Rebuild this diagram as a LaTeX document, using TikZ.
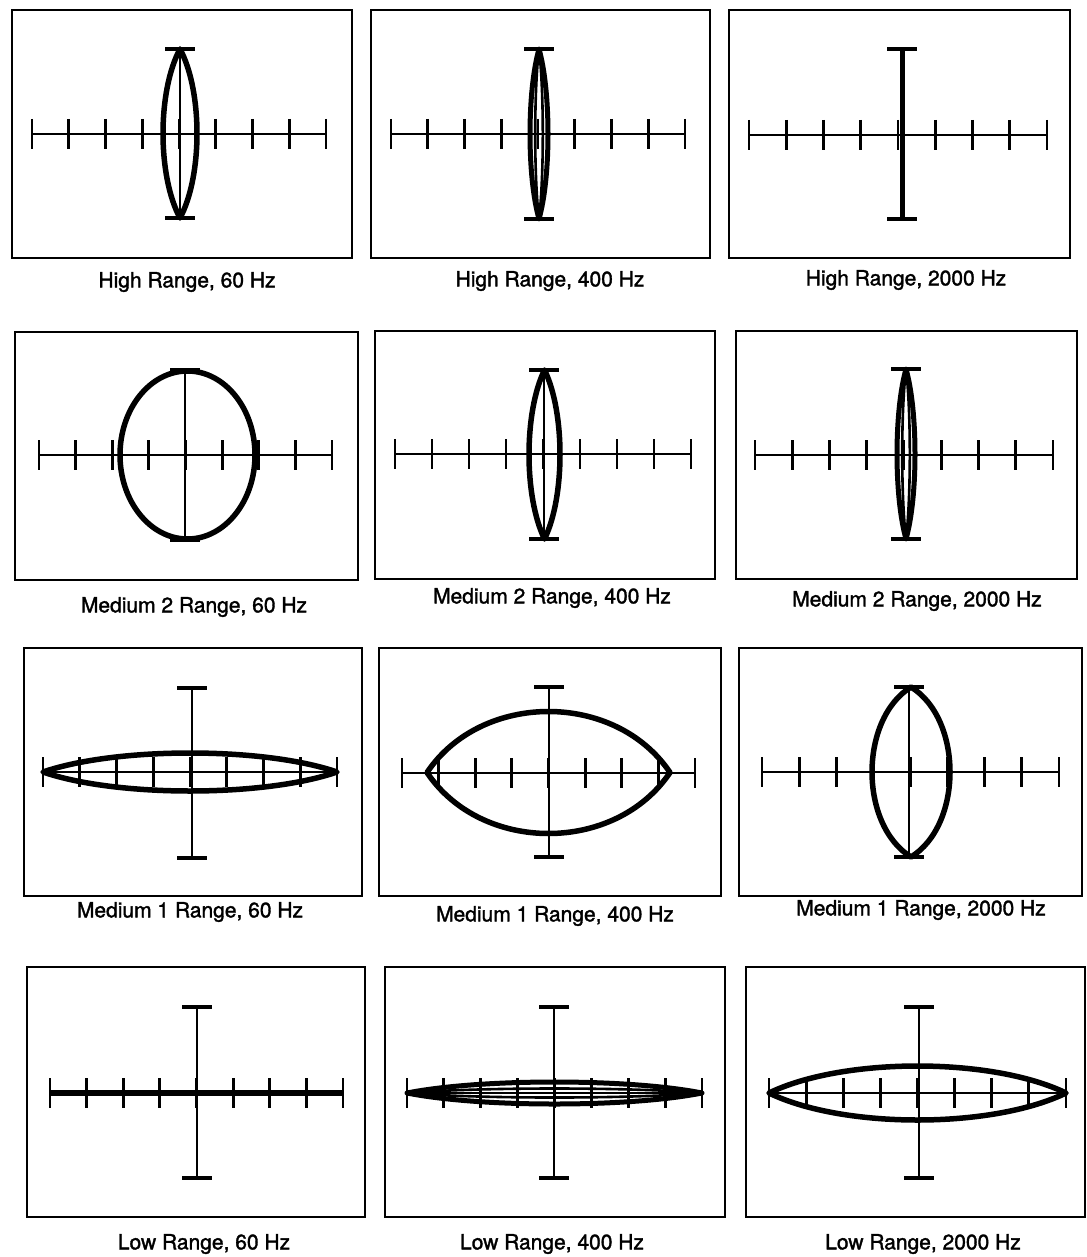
\documentclass[tikz,border=0pt]{standalone}
\usepackage{fontspec}
\setmainfont{TeX Gyre Heros}
\newfontfamily\lblfont{TeX Gyre Heros}[FakeBold=1.6]
\tikzset{
  frame/.style={draw=black, line width=2.8pt},
  axisline/.style={line width=2.6pt},
  tickline/.style={line width=2.8pt},
  capline/.style={line width=3.2pt},
  thinv/.style={line width=1.8pt},
  trace/.style={line width=5.5pt, line join=round},
  outertrace/.style={line width=5pt, line join=round},
  innertrace/.style={line width=2.6pt, line join=round},
  hidden/.style={draw=none},
  lbl/.style={font=\lblfont\fontsize{21}{25}\selectfont, inner sep=0pt, anchor=center}
}
% #1 xL, #2 xR, #3 yA, #4 xc, #5 yT, #6 yB, #7 vertical style, #8 horizontal style
\newcommand{\grat}[8]{%
  \draw[#8] (#1,#3) -- (#2,#3);
  \foreach \k in {0,...,8}{\draw[tickline] ({#1+\k*(#2-#1)/8},{#3-15}) -- ({#1+\k*(#2-#1)/8},{#3+15});}
  \draw[#7] (#4,#5) -- (#4,#6);
  \draw[capline] ({#4-15},#5) -- ({#4+15},#5);
  \draw[capline] ({#4-15},#6) -- ({#4+15},#6);
}
% vertical lens: [#1 control fraction], #2 xc, #3 yc, #4 half height, #5 half width, #6 style
\newcommand{\vlens}[6][0.5]{%
  \draw[#6] (#2,{#3-#4}) .. controls ({#2+4*#5/3},{#3-#1*#4}) and ({#2+4*#5/3},{#3+#1*#4}) .. (#2,{#3+#4})
    .. controls ({#2-4*#5/3},{#3+#1*#4}) and ({#2-4*#5/3},{#3-#1*#4}) .. cycle;}
% horizontal lens: [#1 control fraction], #2 xc, #3 yc, #4 half length, #5 half height, #6 style
\newcommand{\hlens}[6][0.5]{%
  \draw[#6] ({#2-#4},#3) .. controls ({#2-#1*#4},{#3-4*#5/3}) and ({#2+#1*#4},{#3-4*#5/3}) .. ({#2+#4},#3)
    .. controls ({#2+#1*#4},{#3+4*#5/3}) and ({#2-#1*#4},{#3+4*#5/3}) .. cycle;}
\begin{document}
\begin{tikzpicture}[x=1pt,y=-1pt]
\useasboundingbox (0,0) rectangle (1086,1257);
\fill[white] (0,0) rectangle (1086,1257);

% ---------- Row 1: High Range ----------
\draw[frame] (12,10) rectangle (352,258);
\grat{32}{326}{134}{180}{49}{218}{thinv}{axisline}
\vlens{180}{133.5}{84.5}{17}{trace}
\node[lbl] (lA1) at (187,282) {High Range, 60 Hz};

\draw[frame] (371,10) rectangle (710,258);
\grat{391}{685}{134}{539}{49}{219}{hidden}{axisline}
\vlens{539}{134}{85}{9}{outertrace}
\vlens{539}{134}{85}{3.8}{innertrace}
\node[lbl] (lA2) at (550,281) {High Range, 400 Hz};

\draw[frame] (729,10) rectangle (1070,258);
\grat{749}{1047}{135}{902}{49}{219}{line width=5pt}{axisline}
\node[lbl] (lA3) at (906,280) {High Range, 2000 Hz};

% ---------- Row 2: Medium 2 Range ----------
\draw[frame] (15,332) rectangle (358,580);
\grat{39}{332}{455}{185}{370}{540}{thinv}{axisline}
\draw[trace] (187.5,455) ellipse [x radius=67.5, y radius=84];
\node[lbl] (lB1) at (194,607) {Medium 2 Range, 60 Hz};

\draw[frame] (375,331) rectangle (715,579);
\grat{395}{691}{454}{544}{370}{539}{thinv}{axisline}
\vlens{544.5}{454.5}{84.5}{15.5}{trace}
\node[lbl] (lB2) at (552,598) {Medium 2 Range, 400 Hz};

\draw[frame] (736,331) rectangle (1077,579);
\grat{755}{1053}{455}{906}{369}{539}{hidden}{axisline}
\vlens{906}{454}{85}{9}{outertrace}
\vlens{906}{454}{85}{3.8}{innertrace}
\node[lbl] (lB3) at (917,601) {Medium 2 Range, 2000 Hz};

% ---------- Row 3: Medium 1 Range ----------
\draw[frame] (24,648) rectangle (362,896);
\grat{43}{337}{772}{192}{688}{858}{axisline}{axisline}
\hlens{190}{772}{147}{19}{trace}
\node[lbl] (lC1) at (190,912) {Medium 1 Range, 60 Hz};

\draw[frame] (379,648) rectangle (721,896);
\grat{402}{695}{773}{549}{687}{857}{axisline}{axisline}
\hlens[0.55]{548.5}{772.5}{121.5}{61}{trace}
\node[lbl] (lC2) at (555,916) {Medium 1 Range, 400 Hz};

\draw[frame] (739,648) rectangle (1082,896);
\grat{762}{1059}{772}{909}{687}{857}{axisline}{axisline}
\vlens[0.62]{911}{772}{85}{39}{trace}
\node[lbl] (lC3) at (921,910) {Medium 1 Range, 2000 Hz};

% ---------- Row 4: Low Range ----------
\draw[frame] (27,967) rectangle (365,1217);
\grat{50}{343}{1093}{197}{1007}{1178}{axisline}{line width=5.5pt}
\node[lbl] (lD1) at (204,1244) {Low Range, 60 Hz};

\draw[frame] (385,967) rectangle (725,1217);
\grat{407}{702}{1093}{554}{1007}{1178}{axisline}{axisline}
\hlens{554.5}{1093}{147.5}{11}{outertrace}
\hlens{554.5}{1093}{147.5}{4.5}{innertrace}
\node[lbl] (lD2) at (552,1244) {Low Range, 400 Hz};

\draw[frame] (746,967) rectangle (1085,1217);
\grat{769}{1066}{1093}{919}{1007}{1178}{axisline}{axisline}
\hlens{917.5}{1093}{148.5}{27}{trace}
\node[lbl] (lD3) at (923,1244) {Low Range, 2000 Hz};
\end{tikzpicture}
\end{document}
